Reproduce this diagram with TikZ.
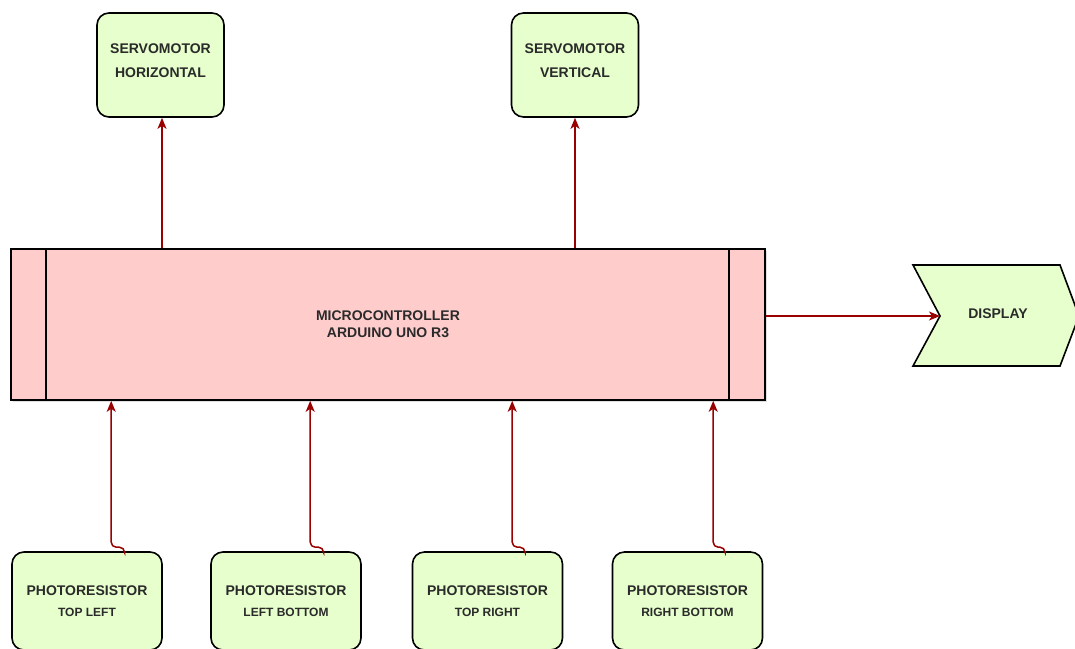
\documentclass[tikz,border=0pt]{standalone}
\usepackage{fontspec}
\setmainfont{Liberation Sans}
\usepackage{xcolor}
\usepackage{tikz}
\usetikzlibrary{arrows.meta, positioning, shadows}
\definecolor{boxgreen}{HTML}{E6FFCC}
\definecolor{boxpink}{HTML}{FFCCCC}
\definecolor{wirered}{HTML}{990000}
\definecolor{labelgray}{HTML}{2A2A2A}
\def\big{\fontsize{14}{17}\selectfont\bfseries}
\def\sml{\fontsize{12}{14}\selectfont}

\begin{document}
\begin{tikzpicture}[x=1pt, y=-1pt,
  servo/.style={draw, line width=1.6pt, fill=boxgreen, rounded corners=12pt, minimum width=127pt, minimum height=104pt, align=center, text=labelgray, font=\big},
  sensor/.style={servo, minimum width=150pt, minimum height=98pt},
  mcu/.style={draw, line width=1.6pt, fill=boxpink, minimum width=754pt, minimum height=151pt, align=center, text=labelgray, font=\big, drop shadow={opacity=0.25, shadow xshift=2pt, shadow yshift=-2pt}},
  wire/.style={wirered, line width=1.5pt, rounded corners=5pt, -{Stealth[length=11pt, width=9pt, inset=3pt]}}]
\useasboundingbox (0,0) rectangle (1075,648);

% servomotors
\node[servo, text depth=9pt] (servoH) at (160.5,65) {SERVOMOTOR\\[7pt]HORIZONTAL};
\node[servo, text depth=9pt] (servoV) at (575,65) {SERVOMOTOR\\[7pt]VERTICAL};

% microcontroller
\node[mcu] (mcu) at (388,324.5) {MICROCONTROLLER\\ARDUINO UNO R3};
\draw[line width=1.6pt] ([xshift=36pt]mcu.north west) -- ([xshift=36pt]mcu.south west);
\draw[line width=1.6pt] ([xshift=-37pt]mcu.north east) -- ([xshift=-37pt]mcu.south east);

% display
\draw[line width=1.6pt, fill=boxgreen] (913,265) -- (1060,265) -- (1079,316) -- (1060,366) -- (913,366) -- (940,316) -- cycle;
\coordinate (dispin) at (940,316);
\node[text=labelgray, font=\big] (disp) at (998,314) {DISPLAY};

% photoresistors
\node[sensor] (prTL) at (87,601) {PHOTORESISTOR\\[4pt]{\sml TOP LEFT}};
\node[sensor] (prLB) at (286,601) {PHOTORESISTOR\\[4pt]{\sml LEFT BOTTOM}};
\node[sensor] (prTR) at (487.5,601) {PHOTORESISTOR\\[4pt]{\sml TOP RIGHT}};
\node[sensor] (prRB) at (687.5,601) {PHOTORESISTOR\\[4pt]{\sml RIGHT BOTTOM}};

% connectors
\draw[wire] (mcu.north -| 162,0) -- (servoH.south -| 162,0);
\draw[wire] (mcu.north -| servoV.south) -- (servoV.south);
\draw[wire] (mcu.east |- dispin) -- (dispin);
\draw[wire] ([xshift=37.5pt]prTL.north) -- ++(0,-4) -| ([xshift=101pt]mcu.south west);
\draw[wire] ([xshift=37.5pt]prLB.north) -- ++(0,-4) -| ([xshift=300pt]mcu.south west);
\draw[wire] ([xshift=37.5pt]prTR.north) -- ++(0,-4) -| ([xshift=502pt]mcu.south west);
\draw[wire] ([xshift=37.5pt]prRB.north) -- ++(0,-4) -| ([xshift=703pt]mcu.south west);
\end{tikzpicture}
\end{document}
